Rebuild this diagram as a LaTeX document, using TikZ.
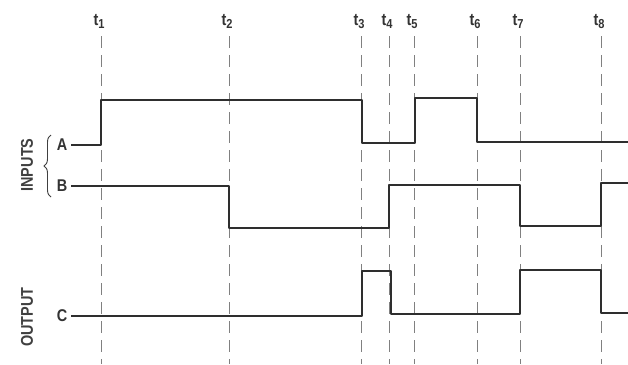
\documentclass[tikz,border=0pt]{standalone}
\usepackage{fontspec}
\setmainfont{Liberation Sans}[FakeStretch=0.85]
\usetikzlibrary{decorations.pathreplacing}
\begin{document}
\begin{tikzpicture}[x=1pt,y=-1pt,
  sig/.style={line width=2pt, draw=black!82, line join=round},
  tick/.style={draw=black!50, line width=0.9pt, dash pattern=on 12pt off 7pt},
  lbl/.style={font=\bfseries\fontsize{17}{17}\selectfont, text=black!80, inner sep=0pt},
  side/.style={font=\bfseries\fontsize{17}{17}\selectfont, text=black!75, inner sep=0pt, rotate=90}]
\useasboundingbox[fill=white] (0,0) rectangle (628,364);
\newcommand{\tlab}[1]{t{\fontsize{13}{13}\selectfont\raisebox{-3pt}{#1}}}
% time marks
\foreach \n/\x in {1/101,2/229,3/361,4/389,5/414,6/477,7/520,8/601}{
  \coordinate (t\n) at (\x,36);
  \draw[tick] (t\n) -- (\x,364);
  \node[lbl, anchor=base] (lt\n) at (\x-2,25) {\tlab{\n}};
}
% signal labels
\node[lbl] (A) at (62,145) {A};
\node[lbl] (B) at (62,186) {B};
\node[lbl] (C) at (62,316) {C};
\node[side] (inputs) at (27,165) {INPUTS};
\node[side] (output) at (27,317) {OUTPUT};
\draw[black!75, line width=0.9pt, decorate,
      decoration={brace, amplitude=7pt}] (51,197) -- (51,135);
% waveforms
\draw[sig] (A.east) ++(4,0) -- (101,145) -- (101,100) -- (362,100) -- (362,143) -- (415,143) -- (415,98) -- (477,98) -- (477,142) -- (628,142);
\draw[sig] (B.east) ++(4,0) -- (229,186) -- (229,228) -- (389,228) -- (389,185) -- (520,185) -- (520,226) -- (601,226) -- (601,183) -- (628,183);
\draw[sig] (C.east) ++(4,0) -- (362,316) -- (362,271) -- (391,271) -- (391,314) -- (520,314) -- (520,270) -- (601,270) -- (601,313) -- (628,313);
\end{tikzpicture}
\end{document}
